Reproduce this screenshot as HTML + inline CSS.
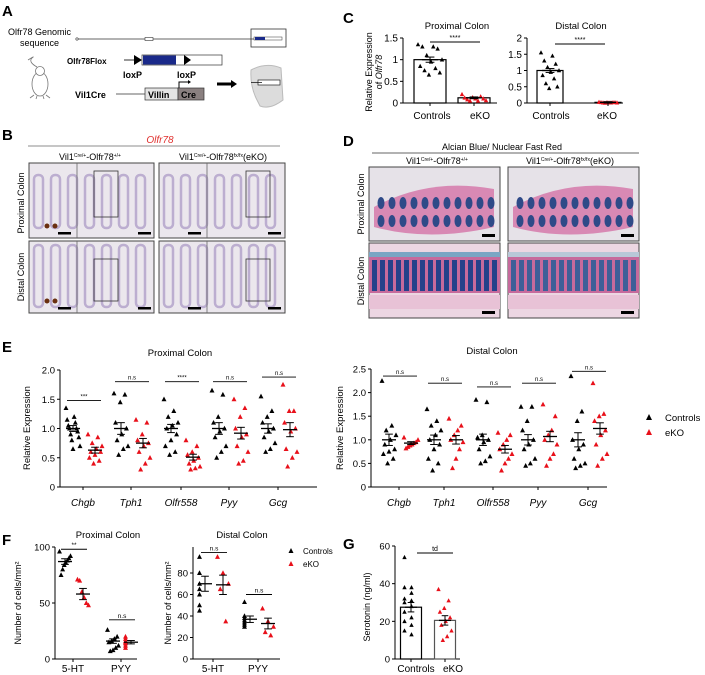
<!DOCTYPE html>
<html><head><meta charset="utf-8"><style>
html,body{margin:0;padding:0;background:#fff;}
svg{display:block;font-family:"Liberation Sans",Arial,sans-serif;}
</style></head><body>
<svg id="fig" width="705" height="675" viewBox="0 0 705 675" xmlns="http://www.w3.org/2000/svg">
<!-- Panel A -->
<g>
<text x="2" y="16" font-size="15" font-weight="bold">A</text>
<text x="8" y="35" font-size="9">Olfr78 Genomic</text>
<text x="20" y="46" font-size="9">sequence</text>
<line x1="77" y1="39" x2="255" y2="39" stroke="#333" stroke-width="0.8"/>
<circle cx="77" cy="39" r="1.2" fill="#fff" stroke="#333" stroke-width="0.6"/>
<rect x="145" y="37.5" width="8" height="3" fill="#fff" stroke="#333" stroke-width="0.6"/>
<rect x="251" y="29" width="35" height="18" fill="none" stroke="#333" stroke-width="0.8"/>
<rect x="254" y="37" width="28" height="3" fill="#fff" stroke="#333" stroke-width="0.5"/>
<rect x="255" y="37" width="10" height="3" fill="#1a2a8a"/>
<text x="67" y="64" font-size="8" font-weight="bold">Olfr78Flox</text>
<line x1="124" y1="60" x2="134" y2="60" stroke="#000" stroke-width="0.8"/>
<polygon points="134,55 142,60 134,65" fill="#000"/>
<rect x="142" y="55" width="80" height="10" fill="#fff" stroke="#333" stroke-width="0.7"/>
<rect x="143" y="55.5" width="33" height="9" fill="#1a2a8a"/>
<polygon points="184,55 191,60 184,65" fill="#000"/>
<text x="123" y="78" font-size="9" font-weight="bold">loxP</text>
<text x="177" y="78" font-size="9" font-weight="bold">loxP</text>
<text x="75" y="98" font-size="9" font-weight="bold">Vil1Cre</text>
<line x1="116" y1="94" x2="145" y2="94" stroke="#333" stroke-width="0.7"/>
<rect x="145" y="88" width="33" height="12" fill="#e4e4e4" stroke="#333" stroke-width="0.7"/>
<rect x="178" y="88" width="26" height="12" fill="#8a8080" stroke="#333" stroke-width="0.7"/>
<text x="148" y="98" font-size="9" font-weight="bold">Villin</text>
<text x="181" y="98" font-size="9" font-weight="bold">Cre</text>
<path d="M179,88 V82 H188" stroke="#000" fill="none" stroke-width="1"/>
<polygon points="188,80 191,82 188,84" fill="#000"/>
<path d="M217,84 H232" stroke="#000" stroke-width="3"/>
<polygon points="231,80 237,84 231,88" fill="#000"/>
<g stroke="#777" fill="#fff" stroke-width="0.8">
<ellipse cx="40" cy="84" rx="8" ry="12"/><circle cx="40" cy="71" r="4.5"/>
<path d="M37,67 Q28,62 32,58 Q36,55 28,60" fill="none"/>
<path d="M34,95 l-4,3 M46,95 l4,3 M37,96 l-1,3 M43,96 l1,3" fill="none"/>
</g>
<g>
<path d="M251,70 Q266,62 281,68 L283,100 Q270,110 260,106 L256,98 Q250,85 251,70 Z" fill="#dcdcdc" stroke="#bbb"/>
<rect x="258" y="80" width="22" height="5" fill="#fff" stroke="#222" stroke-width="0.7"/>
<line x1="251" y1="82.5" x2="262" y2="82.5" stroke="#000" stroke-width="0.7"/>
</g>
</g>

<!-- Panel B -->
<g>
<text x="2" y="140" font-size="15" font-weight="bold">B</text>
<text x="160" y="143" font-size="10" font-style="italic" fill="#e0302e" text-anchor="middle">Olfr78</text>
<line x1="28" y1="146" x2="280" y2="146" stroke="#666" stroke-width="0.8"/>
<text x="90" y="160" font-size="9" text-anchor="middle">Vil1<tspan font-size="5" dy="-3">Cre/+</tspan><tspan dy="3">-Olfr78</tspan><tspan font-size="5" dy="-3">+/+</tspan></text>
<text x="223" y="160" font-size="9" text-anchor="middle">Vil1<tspan font-size="5" dy="-3">Cre/+</tspan><tspan dy="3">-Olfr78</tspan><tspan font-size="5" dy="-3">fx/fx</tspan><tspan dy="3">(eKO)</tspan></text>
<text transform="translate(24,203) rotate(-90)" font-size="9" text-anchor="middle">Proximal Colon</text>
<text transform="translate(24,277) rotate(-90)" font-size="9" text-anchor="middle">Distal Colon</text>
<g id="bimgs"></g>
</g>

<!-- Panel C -->
<g>
<text x="343" y="23" font-size="15" font-weight="bold">C</text>
<text transform="translate(372,72) rotate(-90)" font-size="9" text-anchor="middle">Relative Expression</text>
<text transform="translate(382,72) rotate(-90)" font-size="9" text-anchor="middle">of <tspan font-style="italic">Olfr78</tspan></text>
<g id="cplots"></g>
</g>

<!-- Panel D -->
<g>
<text x="343" y="146" font-size="15" font-weight="bold">D</text>
<text x="502" y="150" font-size="9" text-anchor="middle">Alcian Blue/ Nuclear Fast Red</text>
<line x1="372" y1="153" x2="639" y2="153" stroke="#333" stroke-width="0.8"/>
<text x="437" y="164" font-size="9" text-anchor="middle">Vil1<tspan font-size="5" dy="-3">Cre/+</tspan><tspan dy="3">-Olfr78</tspan><tspan font-size="5" dy="-3">+/+</tspan></text>
<text x="570" y="164" font-size="9" text-anchor="middle">Vil1<tspan font-size="5" dy="-3">Cre/+</tspan><tspan dy="3">-Olfr78</tspan><tspan font-size="5" dy="-3">fx/fx</tspan><tspan dy="3">(eKO)</tspan></text>
<text transform="translate(364,204) rotate(-90)" font-size="9" text-anchor="middle">Proximal Colon</text>
<text transform="translate(364,281) rotate(-90)" font-size="9" text-anchor="middle">Distal Colon</text>
<g id="dimgs"></g>
</g>

<!-- Panel E -->
<g>
<text x="2" y="352" font-size="15" font-weight="bold">E</text>
<text x="180" y="356" font-size="9.5" text-anchor="middle">Proximal Colon</text>
<text x="492" y="354" font-size="9.5" text-anchor="middle">Distal Colon</text>
<text transform="translate(30,428) rotate(-90)" font-size="9.5" text-anchor="middle">Relative Expression</text>
<text transform="translate(343,428) rotate(-90)" font-size="9.5" text-anchor="middle">Relative Expression</text>
<g id="eplots"></g>
<g>
<polygon points="649,414 652,420 646,420" fill="#000"/>
<text x="665" y="421" font-size="9.5">Controls</text>
<polygon points="649,429 652,435 646,435" fill="#e8101a"/>
<text x="665" y="436" font-size="9.5">eKO</text>
</g>
</g>

<!-- Panel F -->
<g>
<text x="2" y="545" font-size="15" font-weight="bold">F</text>
<text x="108" y="538" font-size="9.5" text-anchor="middle">Proximal Colon</text>
<text x="242" y="538" font-size="9.5" text-anchor="middle">Distal Colon</text>
<text transform="translate(21,603) rotate(-90)" font-size="9" text-anchor="middle">Number of cells/mm²</text>
<text transform="translate(171,603) rotate(-90)" font-size="9" text-anchor="middle">Number of cells/mm²</text>
<g id="fplots"></g>
<g>
<polygon points="291,548 293.5,553 288.5,553" fill="#000"/>
<text x="303" y="554" font-size="8">Controls</text>
<polygon points="291,561 293.5,566 288.5,566" fill="#e8101a"/>
<text x="303" y="567" font-size="8">eKO</text>
</g>
</g>

<!-- Panel G -->
<g>
<text x="343" y="549" font-size="15" font-weight="bold">G</text>
<text transform="translate(370,607) rotate(-90)" font-size="9" text-anchor="middle">Serotonin (ng/ml)</text>
<g id="gplots"></g>
</g>
</svg>
<script>
// ---- data ----
var cCats = ["Controls","eKO"];
var cProxCtrl = [1.35,1.3,1.3,1.25,1.1,1.0,0.95,0.85,0.8,0.75,0.7,0.65];
var cProxKO = [0.2,0.15,0.13,0.12,0.1,0.1,0.08,0.06,0.05,0.05];
var cProxMeans = [1.0,0.12];
var cDistCtrl = [1.55,1.45,1.3,1.2,1.1,1.0,0.95,0.85,0.75,0.6,0.5,0.45];
var cDistKO = [0.03,0.02,0.02,0.02,0.02,0.01,0.01,0.01,0.01,0.0];
var cDistMeans = [1.0,0.02];
var cProxTicks = [0,0.5,1,1.5];
var cDistTicks = [0,0.5,1,1.5,2];
var cTickLabelsProx = ["0","0.5","1","1.5"];
var cTickLabelsDist = ["0","0.5","1","1.5","2"];

var eGenes = ["Chgb","Tph1","Olfr558","Pyy","Gcg"];
var eProxCtrl = [[1.35,1.2,1.15,1.1,1.05,1.0,1.0,0.95,0.9,0.85,0.8,0.7,0.65],[1.6,1.58,1.45,1.1,1.0,0.9,0.8,0.7,0.65,0.55],[1.5,1.3,1.2,1.1,1.05,1.0,0.9,0.8,0.7,0.6,0.55],[1.65,1.58,1.2,1.1,1.0,0.95,0.85,0.7,0.6,0.5],[1.55,1.3,1.2,1.1,1.0,0.95,0.85,0.75,0.65,0.6]];
var eProxKO = [[0.9,0.85,0.75,0.7,0.65,0.6,0.6,0.55,0.5,0.45,0.4],[1.15,1.1,0.9,0.8,0.75,0.7,0.6,0.5,0.4,0.3],[0.8,0.7,0.6,0.55,0.5,0.45,0.4,0.35,0.32,0.3],[1.5,1.35,1.2,1.0,0.9,0.85,0.7,0.6,0.45,0.4],[1.75,1.3,1.3,1.1,1.0,0.95,0.65,0.6,0.5,0.35]];
var eProxCtrlMean = [1,1,1,1,1];
var eProxKOMean = [0.63,0.75,0.51,0.92,0.98];
var eProxCtrlSem = [0.05,0.1,0.07,0.1,0.08];
var eProxKOSem = [0.05,0.08,0.05,0.1,0.12];
var eProxSig = ["***","n.s","****","n.s","n.s"];
var eProxSigY = [1.48,1.8,1.8,1.8,1.88];
var eProxTicks = [0,0.5,1.0,1.5,2.0];
var eProxTickLabels = ["0","0.5","1.0","1.5","2.0"];

var eDistCtrl = [[2.25,1.3,1.2,1.1,1.0,0.9,0.8,0.75,0.7,0.6,0.5],[1.65,1.4,1.3,1.2,1.1,1.0,0.9,0.8,0.6,0.5,0.35],[1.85,1.8,1.1,1.05,1.0,0.95,0.8,0.65,0.55,0.5],[1.7,1.7,1.4,1.2,1.0,0.9,0.8,0.6,0.5,0.45],[2.35,1.6,1.4,1.0,0.9,0.8,0.6,0.5,0.45,0.4]];
var eDistKO = [[1.05,1.0,0.95,0.93,0.9,0.88,0.85,0.82],[1.45,1.3,1.2,1.1,1.0,0.95,0.8,0.6,0.4],[1.15,1.1,1.0,0.9,0.8,0.7,0.6,0.5,0.35],[1.75,1.5,1.2,1.1,1.0,0.9,0.7,0.6,0.45],[2.2,1.55,1.5,1.4,1.2,1.1,0.9,0.7,0.6,0.45]];
var eDistCtrlMean = [1,1,1,1,1];
var eDistKOMean = [0.93,1.0,0.8,1.07,1.24];
var eDistCtrlSem = [0.12,0.1,0.12,0.11,0.15];
var eDistKOSem = [0.03,0.09,0.08,0.11,0.12];
var eDistSig = ["n.s","n.s","n.s","n.s","n.s"];
var eDistSigY = [2.35,2.2,2.12,2.2,2.45];
var eDistTicks = [0,0.5,1.0,1.5,2.0,2.5];
var eDistTickLabels = ["0","0.5","1.0","1.5","2.0","2.5"];

var fCats = ["5-HT","PYY"];
var fProxCtrl = [[96,92,90,88,86,84,80,75],[26,20,18,16,15,12,10,8,7]];
var fProxKO = [[71,70,60,55,50,48],[20,18,16,15,14,12,10]];
var fProxCtrlMean = [87,16];
var fProxKOMean = [58,15];
var fProxCtrlSem = [2.5,2];
var fProxKOSem = [5,1.5];
var fProxSig = ["**","n.s"];
var fProxSigY = [98,35];
var fProxTicks = [0,50,100];
var fDistCtrl = [[95,80,70,65,60,50,45],[53,40,38,36,34,32,30]];
var fDistKO = [[95,80,70,65,35],[47,35,30,25,22]];
var fDistCtrlMean = [70,37];
var fDistKOMean = [69,33];
var fDistCtrlSem = [7,3];
var fDistKOSem = [9,5];
var fDistSig = ["n.s","n.s"];
var fDistSigY = [99,60];
var fDistTicks = [0,20,40,60,80];

var gCats = ["Controls","eKO"];
var gCtrl = [54,38,38,35,32,31,30,28,25,22,20,18,15,13];
var gKO = [37,31,27,25,22,20,18,15,12,10];
var gMeans = [27.5,20.5];
var gSem = [2.5,2.5];
var gTicks = [0,20,40,60];

// ---- drawing ----
var NS = "http://www.w3.org/2000/svg";
function mk(parent, tag, attrs, name){
  var el = document.createElementNS(NS, tag);
  for (var k in attrs) el.setAttribute(k, attrs[k]);
  
  
  parent.appendChild(el);
  return el;
}
function tri(parent, cx, cy, color, s, name){
  return mk(parent, 'polygon', {points:(cx)+','+(cy-s*0.6)+' '+(cx+s*0.55)+','+(cy+s*0.45)+' '+(cx-s*0.55)+','+(cy+s*0.45), fill:color}, name);
}
function scale(y0, yTop, max){ return function(v){ return y0 - v*(y0-yTop)/max; }; }
function jitter(i, n, w){ if (n<=1) return 0; var k = (i*7)%n; return (k/(n-1)-0.5)*w; }
function axisY(parent, x, y0, yTop, ticks, labels, sy, fs, name){
  mk(parent,'line',{x1:x,y1:y0,x2:x,y2:yTop,stroke:'#000','stroke-width':1},name+'-y-axis');
  ticks.forEach(function(t,i){
    var y = sy(t);
    mk(parent,'line',{x1:x-3,y1:y,x2:x,y2:y,stroke:'#000','stroke-width':1},name+'-y-tick');
    var tx = mk(parent,'text',{x:x-5,y:y+3.5,'font-size':fs,'text-anchor':'end'},name+'-y-tick-label');
    tx.textContent = labels ? labels[i] : String(t);
  });
}
function points(parent, vals, cx, sy, color, w, s, name){
  vals.forEach(function(v,i){ tri(parent, cx + jitter(i, vals.length, w), sy(v), color, s, name); });
}
function meanBar(parent, cx, m, sem, sy, hw, name){
  mk(parent,'line',{x1:cx-hw,y1:sy(m),x2:cx+hw,y2:sy(m),stroke:'#000','stroke-width':1.3},name+'-mean');
  mk(parent,'line',{x1:cx,y1:sy(m-sem),x2:cx,y2:sy(m+sem),stroke:'#000','stroke-width':1},name+'-sem');
  mk(parent,'line',{x1:cx-hw*0.55,y1:sy(m-sem),x2:cx+hw*0.55,y2:sy(m-sem),stroke:'#000','stroke-width':1},name+'-sem-cap');
  mk(parent,'line',{x1:cx-hw*0.55,y1:sy(m+sem),x2:cx+hw*0.55,y2:sy(m+sem),stroke:'#000','stroke-width':1},name+'-sem-cap');
}
function sig(parent, x1, x2, y, label, fs, name){
  mk(parent,'line',{x1:x1,y1:y,x2:x2,y2:y,stroke:'#000','stroke-width':0.9},name+'-sig-line');
  var t = mk(parent,'text',{x:(x1+x2)/2,y:y-2,'font-size':fs,'text-anchor':'middle'},name+'-sig-label');
  t.textContent = label;
}

// Panel C
(function(){
  var g = document.getElementById('cplots');
  function draw(name, ax, xend, y0, yTop, max, ticks, labels, ctrl, ko, means, title, tx, bx, lx, bw, sigx){
    var sy = scale(y0, yTop, max);
    var t = mk(g,'text',{x:tx,y:29,'font-size':9.5,'text-anchor':'middle'},name+'-title'); t.textContent = title;
    axisY(g, ax, y0, yTop, ticks, labels, sy, 10, name);
    mk(g,'line',{x1:ax,y1:y0,x2:xend,y2:y0,stroke:'#000','stroke-width':1},name+'-x-axis');
    [ctrl,ko].forEach(function(vals,i){
      var cx = bx[i];
      mk(g,'rect',{x:cx-bw/2,y:sy(means[i]),width:bw,height:y0-sy(means[i]),fill:'#fff',stroke:'#000','stroke-width':1.2},name+'-bar-'+cCats[i]);
      points(g, vals, cx, sy, i?'#e8101a':'#000', bw-8, 4, name+'-point');
      meanBar(g, cx, means[i], i?0.02:0.06, sy, 8, name);
      mk(g,'line',{x1:cx,y1:y0,x2:cx,y2:y0+3,stroke:'#000'},name+'-x-tick');
      var lt = mk(g,'text',{x:lx[i],y:y0+16,'font-size':10,'text-anchor':'middle'},name+'-x-label'); lt.textContent = cCats[i];
    });
    sig(g, sigx[0], sigx[1], name==='c-prox'?42:44, '****', 7, name);
  }
  draw('c-prox', 403, 497, 103, 38, 1.5, cProxTicks, cTickLabelsProx, cProxCtrl, cProxKO, cProxMeans, 'Proximal Colon', 457, [430,474], [432,480], 32, [430,480]);
  draw('c-dist', 527, 623, 103, 38, 2, cDistTicks, cTickLabelsDist, cDistCtrl, cDistKO, cDistMeans, 'Distal Colon', 581, [550,608], [551,607], 26, [555,605]);
})();

// Panel E
(function(){
  var g = document.getElementById('eplots');
  function draw(name, ax, xend, y0, yTop, max, ticks, labels, xs, ctrl, ko, cm, km, cs, ks, sigs, sigY){
    var sy = scale(y0, yTop, max);
    axisY(g, ax, y0, yTop, ticks, labels, sy, 9.5, name);
    mk(g,'line',{x1:ax,y1:y0,x2:xend,y2:y0,stroke:'#000','stroke-width':1},name+'-x-axis');
    eGenes.forEach(function(gene,i){
      var c1 = xs[i]-10, c2 = xs[i]+12;
      points(g, ctrl[i], c1, sy, '#000', 14, 4.5, name+'-ctrl-point');
      points(g, ko[i], c2, sy, '#e8101a', 14, 4.5, name+'-eko-point');
      meanBar(g, c1, cm[i], cs[i], sy, 7, name+'-ctrl');
      meanBar(g, c2, km[i], ks[i], sy, 7, name+'-eko');
      mk(g,'line',{x1:xs[i],y1:y0,x2:xs[i],y2:y0+3,stroke:'#000'},name+'-x-tick');
      var lt = mk(g,'text',{x:xs[i],y:506,'font-size':10,'font-style':'italic','text-anchor':'middle'},name+'-x-label'); lt.textContent = gene;
      sig(g, c1-6, c2+6, sy(sigY[i]), sigs[i], 6, name);
    });
  }
  draw('e-prox', 60, 317, 487, 370, 2, eProxTicks, eProxTickLabels, [83,131,181,229,278], eProxCtrl, eProxKO, eProxCtrlMean, eProxKOMean, eProxCtrlSem, eProxKOSem, eProxSig, eProxSigY);
  draw('e-dist', 371, 607, 487, 369, 2.5, eDistTicks, eDistTickLabels, [399,444,493,538,588], eDistCtrl, eDistKO, eDistCtrlMean, eDistKOMean, eDistCtrlSem, eDistKOSem, eDistSig, eDistSigY);
})();

// Panel F
(function(){
  var g = document.getElementById('fplots');
  function draw(name, ax, xend, y0, yTop, max, ticks, xs, ctrl, ko, cm, km, cs, ks, sigs, sigY){
    var sy = scale(y0, yTop, max);
    axisY(g, ax, y0, 547, ticks, null, sy, 9.5, name);
    mk(g,'line',{x1:ax,y1:y0,x2:xend,y2:y0,stroke:'#000','stroke-width':1},name+'-x-axis');
    fCats.forEach(function(cat,i){
      var c1 = xs[i]-8, c2 = xs[i]+10;
      points(g, ctrl[i], c1, sy, '#000', 11, 4.5, name+'-ctrl-point');
      points(g, ko[i], c2, sy, '#e8101a', 11, 4.5, name+'-eko-point');
      meanBar(g, c1, cm[i], cs[i], sy, 7, name+'-ctrl');
      meanBar(g, c2, km[i], ks[i], sy, 7, name+'-eko');
      mk(g,'line',{x1:xs[i],y1:y0,x2:xs[i],y2:y0+3,stroke:'#000'},name+'-x-tick');
      var lt = mk(g,'text',{x:xs[i],y:672,'font-size':10,'text-anchor':'middle'},name+'-x-label'); lt.textContent = cat;
      sig(g, c1-4, c2+4, sy(sigY[i]), sigs[i], 6.5, name);
    });
  }
  draw('f-prox', 55, 137, 659, 547, 100, fProxTicks, [73,121], fProxCtrl, fProxKO, fProxCtrlMean, fProxKOMean, fProxCtrlSem, fProxKOSem, fProxSig, fProxSigY);
  draw('f-dist', 193, 280, 659, 573, 80, fDistTicks, [213,258], fDistCtrl, fDistKO, fDistCtrlMean, fDistKOMean, fDistCtrlSem, fDistKOSem, fDistSig, fDistSigY);
})();

// Panel G
(function(){
  var g = document.getElementById('gplots');
  var y0 = 659, sy = scale(659, 546, 60), ax = 395;
  axisY(g, ax, y0, 546, gTicks, null, sy, 9.5, 'g');
  mk(g,'line',{x1:ax,y1:y0,x2:460,y2:y0,stroke:'#000','stroke-width':1},'g-x-axis');
  var xs = [411,445], lx = [416,453];
  [gCtrl,gKO].forEach(function(vals,i){
    var cx = xs[i];
    mk(g,'rect',{x:cx-10.5,y:sy(gMeans[i]),width:21,height:y0-sy(gMeans[i]),fill:'#fff',stroke:i?'#555':'#000','stroke-width':1.2},'g-bar-'+gCats[i]);
    points(g, vals, cx, sy, i?'#e8101a':'#000', 13, 4, 'g-point');
    meanBar(g, cx, gMeans[i], gSem[i], sy, 6, 'g');
    mk(g,'line',{x1:cx,y1:y0,x2:cx,y2:y0+3,stroke:'#000'},'g-x-tick');
    var lt = mk(g,'text',{x:lx[i],y:672,'font-size':10,'text-anchor':'middle'},'g-x-label'); lt.textContent = gCats[i];
  });
  sig(g, 417, 453, 553, 'td', 7, 'g');
})();

// Micrograph placeholders (panels B & D) — decorative
(function(){
  var b = document.getElementById('bimgs');
  var boxes = [[29,163,125,75],[159,163,126,75],[29,241,125,72],[159,241,126,72]];
  boxes.forEach(function(bx,bi){
    mk(b,'rect',{x:bx[0],y:bx[1],width:bx[2],height:bx[3],fill:'#ebe7ed',stroke:'#444','stroke-width':1},'ish-image');
    for (var k=0;k<7;k++){
      var px = bx[0]+5+k*17;
      mk(b,'rect',{x:px,y:bx[1]+(bi>1?4:12),width:9,height:bx[3]-(bi>1?10:22),rx:4,fill:'none',stroke:'#bcaed0','stroke-width':2.5},'crypt');
    }
    mk(b,'line',{x1:bx[0]+48,y1:bx[1],x2:bx[0]+48,y2:bx[1]+bx[3],stroke:'#666','stroke-width':0.8},'image-divider');
    mk(b,'rect',{x:bx[0]+(bi%2?87:65),y:bx[1]+(bi>1?18:8),width:24,height:(bi>1?42:46),fill:'none',stroke:'#333','stroke-width':0.8},'inset-box');
    mk(b,'rect',{x:bx[0]+29,y:bx[1]+bx[3]-6,width:13,height:2.5,fill:'#000'},'scale-bar');
    mk(b,'rect',{x:bx[0]+109,y:bx[1]+bx[3]-6,width:13,height:2.5,fill:'#000'},'scale-bar');
    if (bi%2===0){
      mk(b,'circle',{cx:bx[0]+18,cy:bx[1]+bx[3]-12,r:2.5,fill:'#6a3010'},'stain-dot');
      mk(b,'circle',{cx:bx[0]+26,cy:bx[1]+bx[3]-12,r:2.5,fill:'#6a3010'},'stain-dot');
    }
  });
  var d = document.getElementById('dimgs');
  var dboxes = [[369,167,131,74],[508,167,131,74],[369,243,131,75],[508,243,131,75]];
  dboxes.forEach(function(bx,bi){
    mk(d,'rect',{x:bx[0],y:bx[1],width:bx[2],height:bx[3],fill:bi<2?'#e6e2e8':'#ecd6e2',stroke:'#444','stroke-width':1},'histology-image');
    if (bi<2){
      mk(d,'path',{d:'M'+(bx[0]+5)+','+(bx[1]+40)+' Q'+(bx[0]+60)+','+(bx[1]+10)+' '+(bx[0]+125)+','+(bx[1]+22)+' L'+(bx[0]+125)+','+(bx[1]+60)+' Q'+(bx[0]+60)+','+(bx[1]+75)+' '+(bx[0]+5)+','+(bx[1]+60)+' Z',fill:'#d889b4'},'tissue');
      for (var r=0;r<2;r++) for (var k=0;k<11;k++){
        mk(d,'ellipse',{cx:bx[0]+12+k*11,cy:bx[1]+36+r*18,rx:3.5,ry:6,fill:'#2f4a88'},'goblet-crypt');
      }
    } else {
      mk(d,'rect',{x:bx[0],y:bx[1]+14,width:bx[2],height:36,fill:'#c66a9c'},'mucosa');
      for (var k=0;k<16;k++){
        mk(d,'rect',{x:bx[0]+3+k*8,y:bx[1]+17,width:5,height:31,fill:bi===2?'#24418a':'#3d5f98'},'goblet-crypt');
      }
      mk(d,'rect',{x:bx[0],y:bx[1]+9,width:bx[2],height:5,fill:bi===2?'#7aa6c4':'#b8c8d8'},'mucus-layer');
      mk(d,'rect',{x:bx[0],y:bx[1]+52,width:bx[2],height:14,fill:'#e8c2d6'},'submucosa');
    }
    mk(d,'rect',{x:bx[0]+bx[2]-18,y:bx[1]+bx[3]-7,width:13,height:3,fill:'#000'},'scale-bar');
  });
})();
</script>
</body></html>
